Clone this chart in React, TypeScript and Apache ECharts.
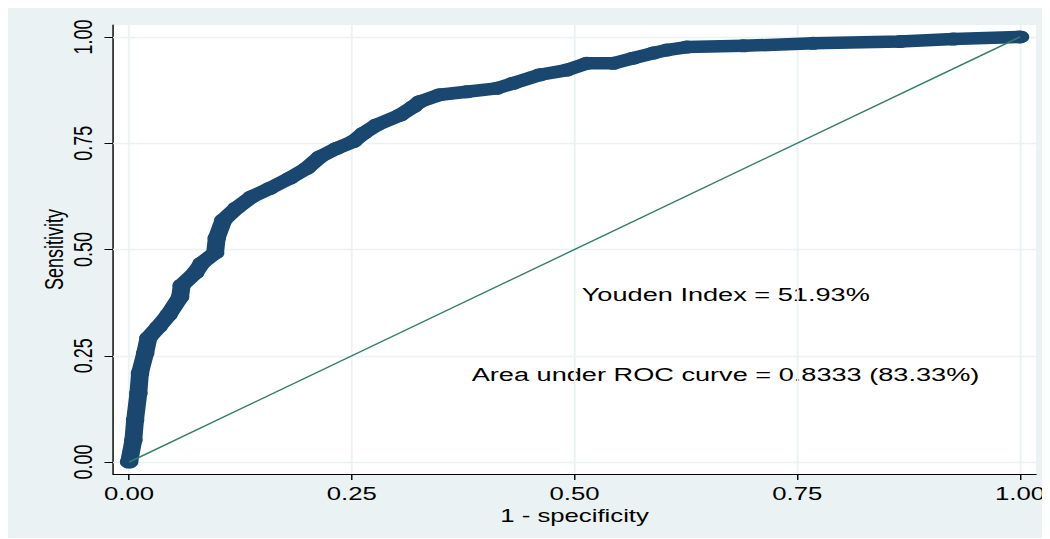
import React, { useEffect, useRef } from "react";
import * as echarts from "echarts";

// ROC curve points (1 - specificity, sensitivity)
const FPR = [0, 0.0048, 0.0067, 0.0104, 0.0122, 0.018, 0.0217, 0.0329, 0.0441, 0.0572, 0.0591, 0.0741, 0.0816, 0.0965, 0.0984, 0.1058, 0.1209, 0.1377, 0.1582, 0.1807, 0.1994, 0.2144, 0.2331, 0.2517, 0.263, 0.278, 0.3042, 0.3191, 0.3266, 0.349, 0.379, 0.4127, 0.4313, 0.4613, 0.4912, 0.5137, 0.5436, 0.566, 0.5884, 0.6035, 0.6259, 0.6895, 0.768, 0.8653, 0.9251, 1];
const TPR = [0, 0.052, 0.099, 0.162, 0.209, 0.256, 0.292, 0.318, 0.346, 0.388, 0.416, 0.445, 0.468, 0.492, 0.527, 0.569, 0.598, 0.624, 0.644, 0.668, 0.691, 0.718, 0.738, 0.754, 0.773, 0.793, 0.816, 0.836, 0.848, 0.864, 0.871, 0.879, 0.891, 0.911, 0.922, 0.938, 0.938, 0.95, 0.962, 0.969, 0.976, 0.979, 0.985, 0.989, 0.995, 1];
const DIAG_X = [0, 1];
const DIAG_Y = [0, 1];
const TICKS = [0, 0.25, 0.5, 0.75, 1];
const X_TITLE = "1 - specificity";
const Y_TITLE = "Sensitivity";
const NOTE_YOUDEN = "Youden Index = 51.93%";
const NOTE_AUC = "Area under ROC curve = 0.8333 (83.33%)";

const S = 1.4294;
const W = 729;
const H = 532;
const FONT = "Liberation Sans, Arial, sans-serif";
const BG = "#EAF2F3";
const NAVY = "#1A476F";

export default function App() {
  const ref = useRef<HTMLDivElement>(null);
  useEffect(() => {
    document.body.style.overflow = "hidden";
    const chart = echarts.init(ref.current!, null, { renderer: "svg", width: W, height: H });
    const axisCommon = {
      type: "value",
      axisLine: { show: true, onZero: false, lineStyle: { color: "#000", width: 1 } },
      axisTick: { show: true, length: 6, customValues: TICKS, lineStyle: { color: "#000", width: 1 } },
      splitLine: { show: false },
      nameLocation: "middle",
      nameMoveOverlap: false,
      nameTextStyle: { fontFamily: FONT, fontSize: 18, color: "#000" },
    };
    chart.setOption({
      animation: false,
      backgroundColor: BG,
      grid: {
        left: 73.5,
        right: 9.8,
        top: 19,
        bottom: 64,
        show: true,
        backgroundColor: "#fff",
        borderWidth: 0,
        outerBoundsMode: "none",
        containLabel: false,
      },
      xAxis: {
        ...axisCommon,
        min: -0.018,
        max: 1.018,
        name: X_TITLE,
        nameGap: 33,
        axisLabel: {
          customValues: TICKS,
          margin: 11,
          fontFamily: FONT,
          fontSize: 18,
          color: "#000",
          formatter: (v: number) => v.toFixed(2),
        },
      },
      yAxis: {
        ...axisCommon,
        min: -0.028,
        max: 1.028,
        name: Y_TITLE,
        nameGap: 32,
        axisLabel: {
          customValues: TICKS,
          rotate: 90,
          margin: 12,
          fontFamily: FONT,
          fontSize: 18,
          color: "#000",
          formatter: (v: number) => v.toFixed(2),
        },
      },
      series: [
        {
          type: "line",
          z: 1,
          silent: true,
          symbol: "none",
          data: DIAG_X.map((x, i) => [x, DIAG_Y[i]]),
          lineStyle: { opacity: 0 },
          markLine: {
            z: 1,
            silent: true,
            symbol: "none",
            label: { show: false },
            lineStyle: { color: BG, width: 1.3, type: "solid" },
            data: [
              ...TICKS.map((t) => ({ xAxis: t })),
              ...TICKS.map((t) => ({ yAxis: t })),
            ],
          },
        },
        {
          type: "line",
          z: 3,
          silent: true,
          data: FPR.map((x, i) => [x, TPR[i]]),
          symbol: "circle",
          symbolSize: 13,
          showSymbol: true,
          showAllSymbol: true,
          itemStyle: { color: NAVY, borderColor: NAVY, borderWidth: 0, opacity: 1 },
          lineStyle: { color: NAVY, width: 12.5, cap: "round", join: "round" },
          emphasis: { disabled: true },
        },
        {
          type: "line",
          z: 4,
          silent: true,
          data: DIAG_X.map((x, i) => [x, DIAG_Y[i]]),
          symbol: "none",
          lineStyle: { color: "#367D68", width: 1.3 },
        },
      ],
      graphic: [
        {
          type: "text",
          x: 401.4,
          y: 289,
          style: { text: NOTE_YOUDEN, font: `19px ${FONT}`, fill: "#000", verticalAlign: "middle", align: "left" },
        },
        {
          type: "text",
          x: 324.4,
          y: 369,
          style: { text: NOTE_AUC, font: `19px ${FONT}`, fill: "#000", verticalAlign: "middle", align: "left" },
        },
      ],
    });
    return () => chart.dispose();
  }, []);
  return (
    <div
      ref={ref}
      style={{ width: W, height: H, marginTop: -2, transform: `scaleX(${S})`, transformOrigin: "0 0" }}
    />
  );
}
